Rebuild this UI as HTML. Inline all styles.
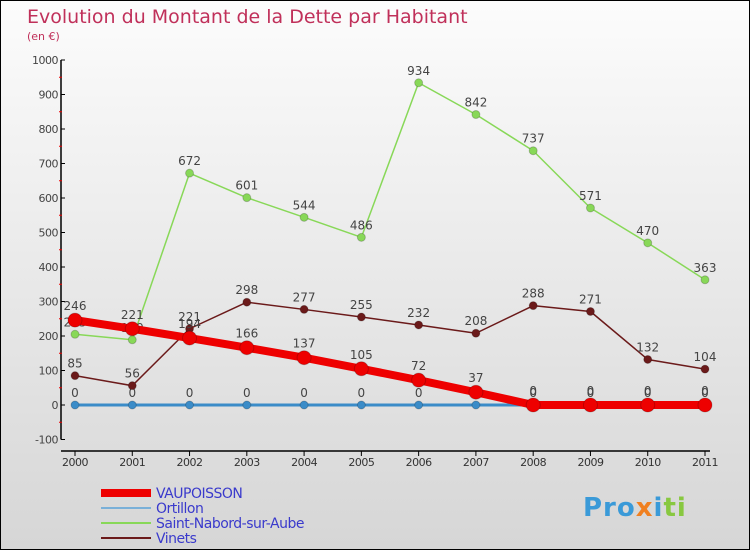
<!DOCTYPE html>
<html><head><meta charset="utf-8"><style>
body{margin:0;}
#wrap{position:relative;width:748px;height:548px;border:1px solid #000;background:linear-gradient(#fcfcfc,#d6d6d6);font-family:"DejaVu Sans","Liberation Sans",sans-serif;overflow:hidden}
</style></head><body>
<div id="wrap">
<svg id="chart" width="748" height="548"></svg>
</div>
<script>
const years=["2000","2001","2002","2003","2004","2005","2006","2007","2008","2009","2010","2011"];
const vaupoisson=[246,221,194,166,137,105,72,37,0,0,0,0];
const ortillon=[0,0,0,0,0,0,0,0,0,0,0,0];
const saintNabord=[205,189,672,601,544,486,934,842,737,571,470,363];
const vinets=[85,56,221,298,277,255,232,208,288,271,132,104];
const yTicks=[-100,0,100,200,300,400,500,600,700,800,900,1000];
const seriesNames=["VAUPOISSON","Ortillon","Saint-Nabord-sur-Aube","Vinets"];

const svg=document.getElementById('chart');
const NS="http://www.w3.org/2000/svg";
function X(i){return 74+i*(630/11);}
function Y(v){return 404-v*0.345;}
function mk(tag,attrs,parent){const e=document.createElementNS(NS,tag);for(const k in attrs)e.setAttribute(k,attrs[k]);(parent||svg).appendChild(e);return e;}

let t=mk('text',{x:26,y:22,'font-size':19,fill:'#c0305a'});t.textContent="Evolution du Montant de la Dette par Habitant";


t=mk('text',{x:26,y:39,'font-size':11,fill:'#c0305a'});t.textContent="(en €)";



// axes
let a=mk('line',{x1:60,y1:Y(1000),x2:60,y2:Y(-100),stroke:'#000','stroke-width':1.5});


a=mk('line',{x1:60,y1:Y(-100)+28,x2:X(11),y2:Y(-100)+28,stroke:'none'});
yTicks.forEach(v=>{
  mk('line',{x1:60,y1:Y(v),x2:64,y2:Y(v),stroke:'#000'});
  if(v<1000)mk('line',{x1:58,y1:Y(v+50),x2:61,y2:Y(v+50),stroke:'#e00'});
  const tt=mk('text',{x:57,y:Y(v)+4,'font-size':11,fill:'#444','text-anchor':'end','letter-spacing':'-0.5'});tt.textContent=v;
  
  
});
const xb=mk('line',{x1:60,y1:450,x2:X(11)+5,y2:450,stroke:'#000','stroke-width':1.5});


years.forEach((y,i)=>{
  mk('line',{x1:X(i),y1:450,x2:X(i),y2:455,stroke:'#000'});
  const tt=mk('text',{x:X(i),y:465,'font-size':11,fill:'#333','text-anchor':'middle','letter-spacing':'-0.5'});tt.textContent=y;
  
  
});

function series(data,color,w,r,name,labelOffset){
  const g=mk('g',{});
  
  
  mk('polyline',{points:data.map((v,i)=>X(i)+','+Y(v)).join(' '),fill:'none',stroke:color,'stroke-width':w,'stroke-linejoin':'round'},g);
  data.forEach((v,i)=>{
    const c=mk('circle',{cx:X(i),cy:Y(v),r:r,fill:color,stroke:'rgba(0,0,0,0.2)'},g);
    
    
    const tt=mk('text',{x:X(i),y:Y(v)-labelOffset,'font-size':12,fill:'#444','text-anchor':'middle'},g);tt.textContent=v;
    
    
  });
}
series(ortillon,'#3b8cc8',3,4,'ortillon-series',8);
series(saintNabord,'#88d858',1.5,4,'saint-nabord-series',8);
series(vinets,'#6b1a1a',1.5,4,'vinets-series',8);
series(vaupoisson,'#ee0000',8,7,'vaupoisson-series',10);

// legend
const colors=['#ee0000','#7ab0d8','#88d858','#6b1a1a'];
const widths=[8,2,2,2];
seriesNames.forEach((n,i)=>{
  const y=492+i*15;
  const l=mk('line',{x1:100,y1:y,x2:150,y2:y,stroke:colors[i],'stroke-width':widths[i]});
  
  
  const tt=mk('text',{x:155,y:y+5,'font-size':14,fill:'#3a3acc','letter-spacing':'-0.5'});tt.textContent=n;
  
  
});
const logo=mk('text',{x:582,y:515,'font-size':26,'font-weight':'bold',fill:'#f0a020','letter-spacing':'1'});
logo.innerHTML='<tspan fill="#3a9ad8">Pro</tspan><tspan fill="#f08020">x</tspan><tspan fill="#3a9ad8">i</tspan><tspan fill="#88c840">ti</tspan>';


</script>
</body></html>
